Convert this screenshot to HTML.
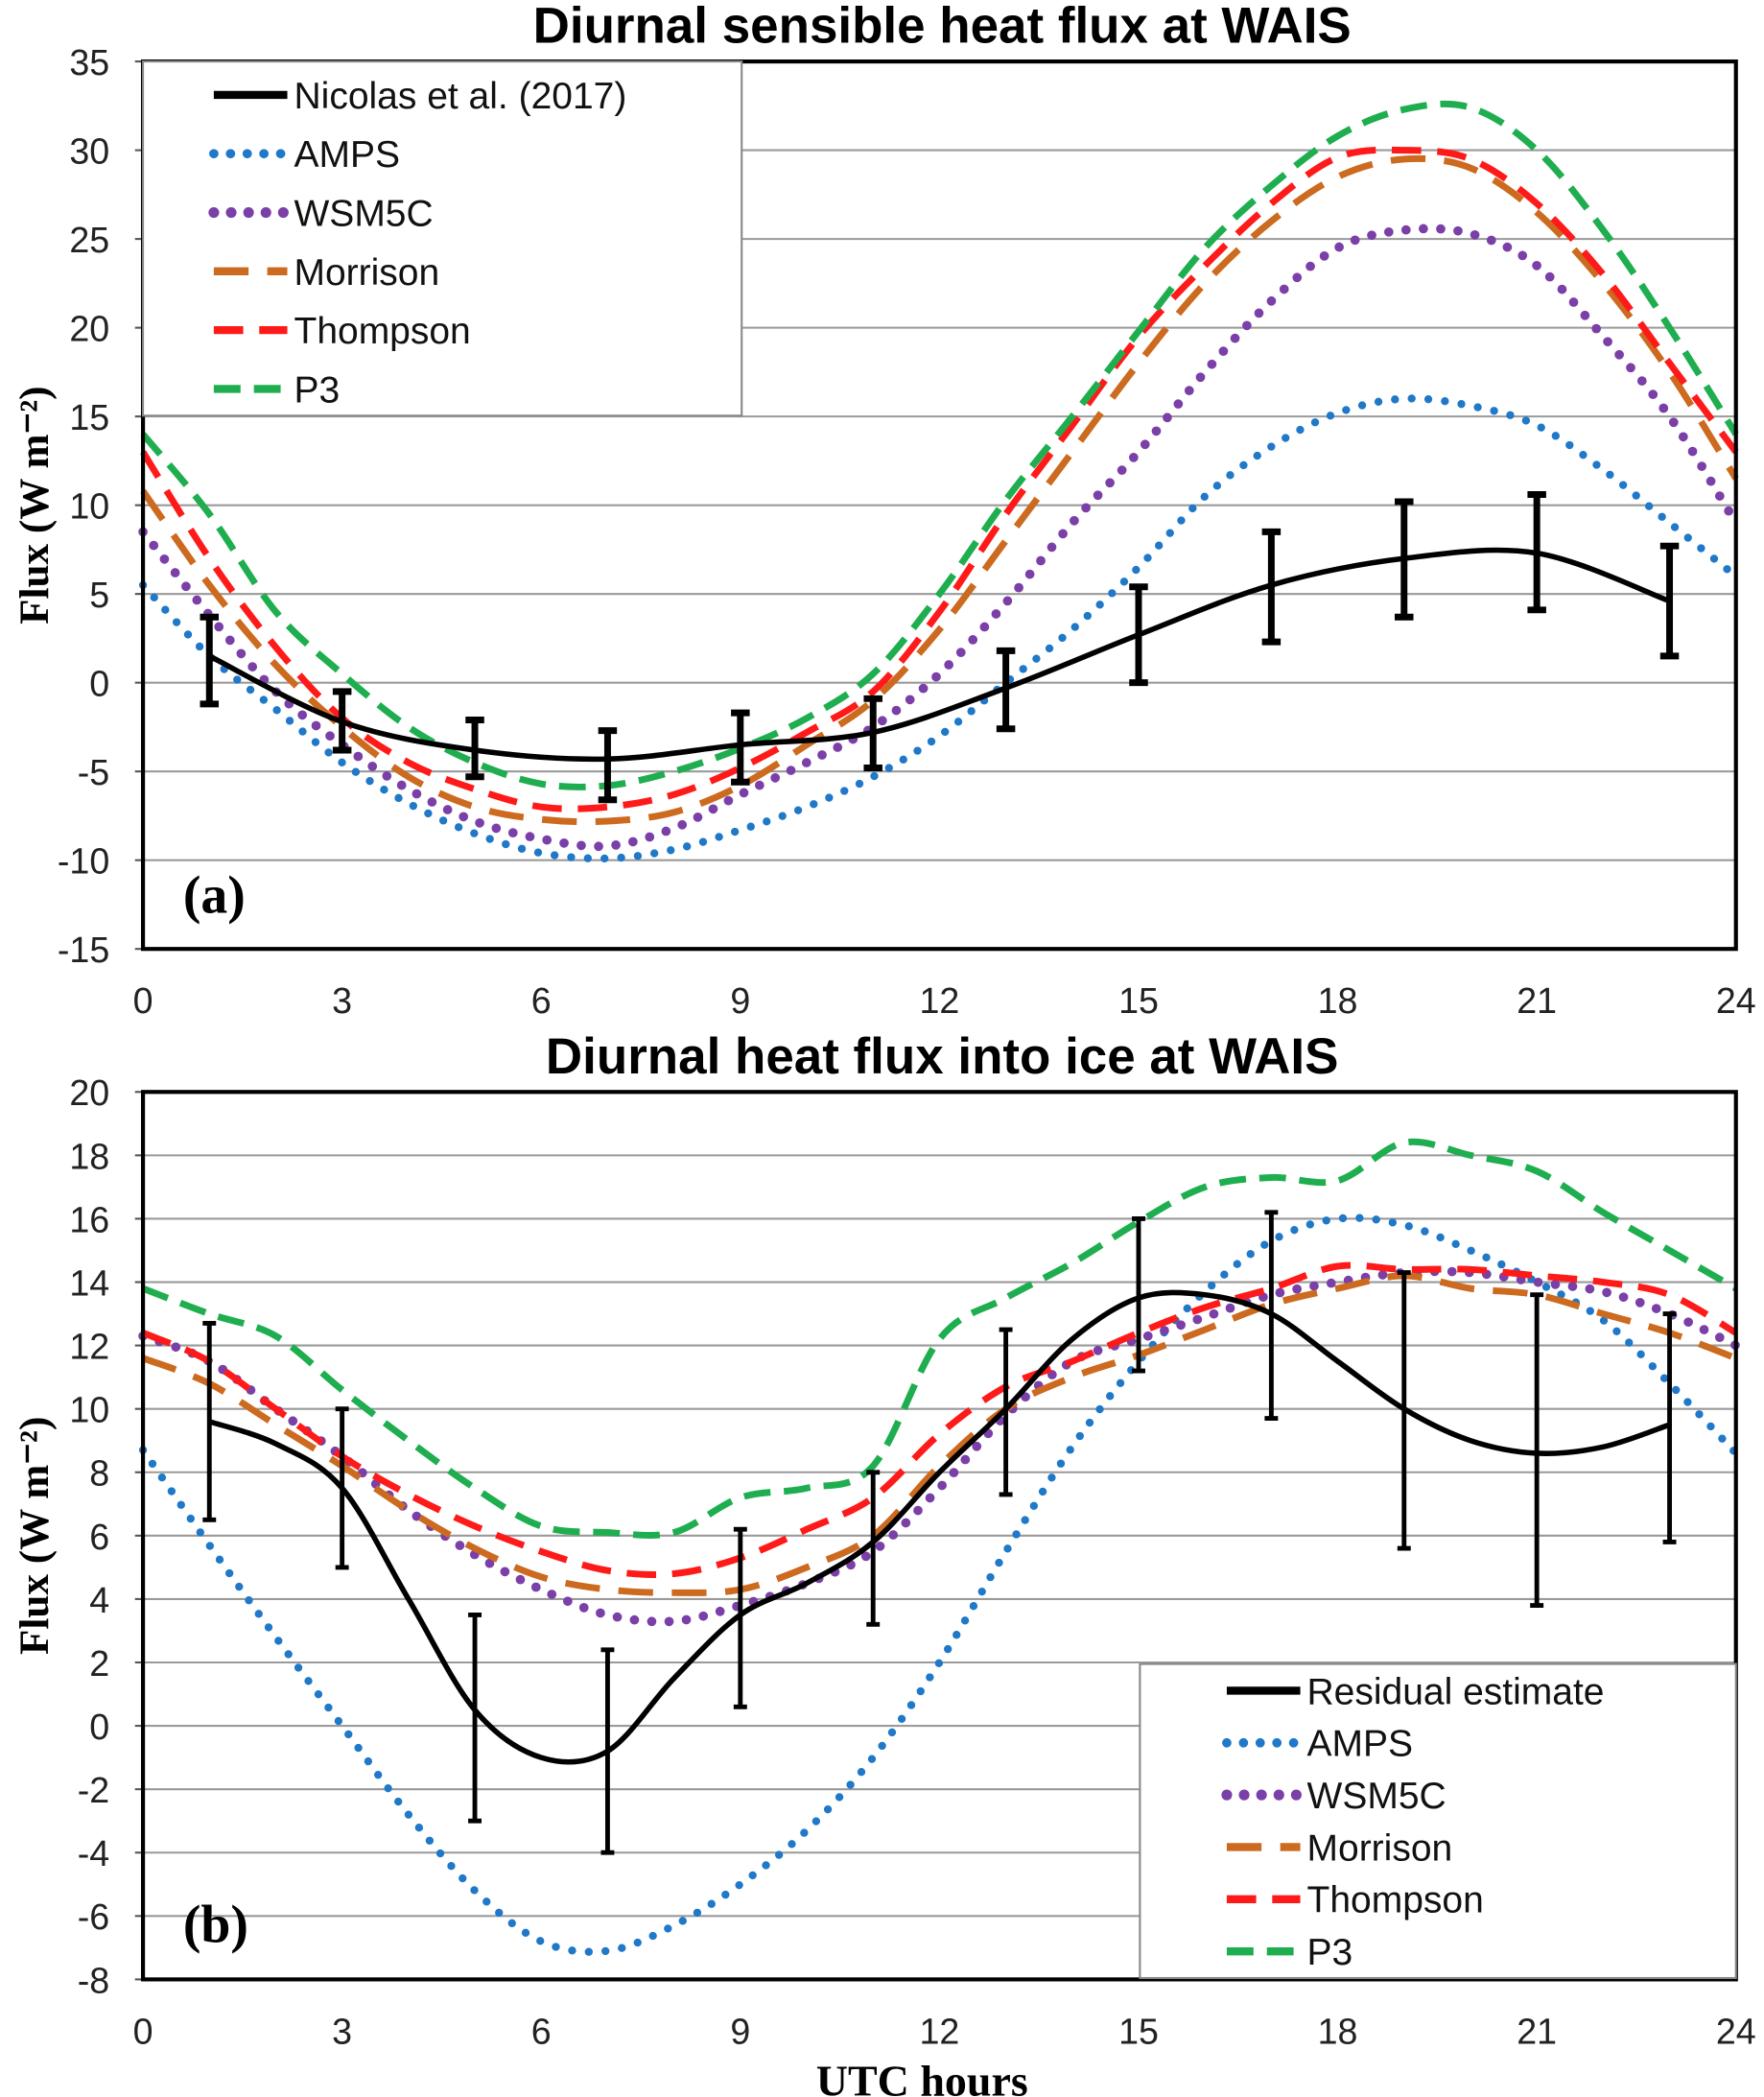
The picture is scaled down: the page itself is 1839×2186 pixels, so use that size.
<!DOCTYPE html>
<html><head><meta charset="utf-8">
<style>
html,body{margin:0;padding:0;background:#fff;}
svg{display:block;}
</style></head>
<body>
<svg id="chart" width="1839" height="2186" viewBox="0 0 1320 1569" preserveAspectRatio="none" xmlns="http://www.w3.org/2000/svg">
<g id="pa"></g>
<g id="pb"></g>
</svg>
<script>
// Panel (a) data
const hoursA = [0,1,2,3,4,5,6,7,8,9,10,11,12,13,14,15,16,17,18,19,20,21,22,23,24];
const obsHoursA = [1,3,5,7,9,11,13,15,17,19,21,23];
const nicolasA = [1.5,-2.2,-3.8,-4.3,-3.5,-2.8,-0.3,2.7,5.5,7.0,7.3,4.6];
const nicolasLoA = [-1.2,-3.8,-5.3,-6.6,-5.6,-4.8,-2.6,0,2.3,3.7,4.1,1.5];
const nicolasHiA = [3.7,-0.5,-2.1,-2.7,-1.7,-0.9,1.8,5.4,8.5,10.2,10.6,7.7];
const ampsA = [5.5,1.5,-1.5,-4.5,-6.8,-8.5,-9.6,-9.9,-9.4,-8.3,-7,-5.3,-3,0,3,6.5,10.5,13.3,15.2,16,15.6,14.5,12,9,6];
const wsmA = [8.5,3.8,-0.5,-3.5,-6,-7.8,-8.8,-9.2,-8.2,-6.3,-4.5,-2.5,0.5,4.5,9,13,17.5,21.5,24.5,25.5,25.3,23.5,19.5,15,9];
const morA = [10.8,5.5,1,-2.5,-5.3,-7,-7.7,-7.8,-7.3,-5.8,-3.5,-1,3,8,13,18,22.5,26,28.5,29.5,29,26.5,22.5,17.5,11.5];
const thoA = [13,7,2,-2,-4.5,-6,-7,-7,-6.3,-4.8,-2.8,-0.5,4,9.5,14.5,19.5,23.5,27,29.6,30,29.5,27,23,18,13];
const p3A = [14,9.5,4,0.5,-2.5,-4.5,-5.7,-5.8,-5,-3.7,-2,0.5,5,10.3,15,19.8,24.5,28,30.8,32.3,32.4,30,25.5,20,14];
const yTicksA = [35,30,25,20,15,10,5,0,-5,-10,-15];
// Panel (b) data
const obsHoursB = [1,2,3,4,5,6,7,8,9,10,11,12,13,14,15,16,17,18,19,20,21,22,23];
const residB = [9.6,8.9,7.5,4,0.5,-1,-0.8,1.5,3.5,4.5,5.8,8,10,12.2,13.5,13.6,13,11.5,10,9,8.6,8.8,9.5];
const errHoursB = [1,3,5,7,9,11,13,15,17,19,21,23];
const errLoB = [6.5,5,-3,-4,0.6,3.2,7.3,11.2,9.7,5.6,3.8,5.8];
const errHiB = [12.7,10,3.5,2.4,6.2,8,12.5,16,16.2,14.3,13.6,13];
const ampsB = [8.7,5.7,2.8,0,-2.8,-5.2,-6.8,-7.1,-6.3,-5,-3.3,-1,2,5.5,8.8,11.5,13.7,15.3,16,15.8,15,14,12.8,10.8,8.6];
const wsmB = [12.3,11.5,10,8.5,6.8,5.4,4.3,3.5,3.3,3.8,4.5,5.5,7.5,9.8,11.5,12.2,12.9,13.6,14,14.3,14.3,14,13.7,13,12];
const morB = [11.6,10.8,9.5,8.2,6.8,5.6,4.7,4.3,4.2,4.3,5,6,8.2,10,11,11.7,12.5,13.3,13.8,14.2,13.8,13.6,13,12.4,11.6];
const thoB = [12.4,11.5,10,8.5,7.3,6.3,5.5,4.9,4.8,5.3,6.2,7.2,9.2,10.7,11.5,12.4,13.2,13.8,14.5,14.4,14.4,14.2,14,13.6,12.4];
const p3B = [13.8,13,12.3,10.6,9,7.5,6.3,6.1,6.1,7.2,7.5,8.2,12.2,13.5,14.6,15.9,17,17.3,17.2,18.4,18,17.5,16.2,15,13.8];
const yTicksB = [20,18,16,14,12,10,8,6,4,2,0,-2,-4,-6,-8];
const xTicks = [0,3,6,9,12,15,18,21,24];

const NS='http://www.w3.org/2000/svg';
function mk(parent,tag,attrs,text){const e=document.createElementNS(NS,tag);for(const k in attrs)e.setAttribute(k,attrs[k]);if(text!==undefined)e.textContent=text;parent.appendChild(e);return e;}
function smooth(pts){let d='M'+pts[0][0]+','+pts[0][1];for(let i=0;i<pts.length-1;i++){const p0=pts[i-1]||pts[i],p1=pts[i],p2=pts[i+1],p3=pts[i+2]||p2;d+=' C'+(p1[0]+(p2[0]-p0[0])/6)+','+(p1[1]+(p2[1]-p0[1])/6)+' '+(p2[0]-(p3[0]-p1[0])/6)+','+(p2[1]-(p3[1]-p1[1])/6)+' '+p2[0]+','+p2[1];}return d;}
const X0=107,X1=1299;
const sx=h=>X0+(X1-X0)*h/24;
const styles={
 amps:{stroke:'#1f78c8',w:6,dash:'0 12.5',cap:'round'},
 wsm:{stroke:'#7b3fa8',w:7,dash:'0 13',cap:'round'},
 mor:{stroke:'#cc6a1f',w:5,dash:'26 14',cap:'butt'},
 tho:{stroke:'#ff1a1a',w:5,dash:'22 12',cap:'butt'},
 p3:{stroke:'#1fae4f',w:5,dash:'20 10',cap:'butt'}
};
function panel(g,cfg){
 const sy=v=>cfg.top+(cfg.bot-cfg.top)*(cfg.ymax-v)/(cfg.ymax-cfg.ymin);
 mk(g,'text',{x:705,y:cfg.top-14,'font-family':'Liberation Sans, sans-serif','font-weight':'bold','font-size':38,'text-anchor':'middle',},cfg.title);
 cfg.yt.forEach(v=>{
  const gl=mk(g,'line',{x1:X0,x2:X1,y1:sy(v),y2:sy(v),stroke:'#9a9a9a','stroke-width':1.5});
  
  
  const t=mk(g,'text',{x:82,y:sy(v)+10,'font-family':'Liberation Sans, sans-serif','font-size':27,'text-anchor':'end',fill:'#222'},String(v));
  
  
  mk(g,'line',{x1:X0-6,x2:X0,y1:sy(v),y2:sy(v),stroke:'#555','stroke-width':1.5});
 });
 xTicks.forEach(h=>{
  const t=mk(g,'text',{x:sx(h),y:cfg.bot+48,'font-family':'Liberation Sans, sans-serif','font-size':27,'text-anchor':'middle',fill:'#222'},String(h));
  
  
 });
 mk(g,'text',{transform:`translate(36,${(cfg.top+cfg.bot)/2}) rotate(-90)`,'font-family':'Liberation Serif, serif','font-weight':'bold','font-size':31,'text-anchor':'middle',},'Flux  (W m\u207B\u00B2)');
 cfg.series.forEach(s=>{
  const st=styles[s.key];
  const p=mk(g,'path',{d:smooth(hoursA.map((h,i)=>[sx(h),sy(s.vals[i])])),fill:'none',stroke:st.stroke,'stroke-width':st.w,'stroke-dasharray':st.dash,'stroke-linecap':st.cap});
  
  
 });
 const bl=mk(g,'path',{d:smooth(cfg.obsX.map((h,i)=>[sx(h),sy(cfg.obs[i])])),fill:'none',stroke:'#000','stroke-width':4});
 
 
 cfg.errX.forEach((h,i)=>{
  const x=sx(h);
  const e=mk(g,'path',{d:`M${x},${sy(cfg.lo[i])}V${sy(cfg.hi[i])}M${x-cfg.cw},${sy(cfg.lo[i])}h${2*cfg.cw}M${x-cfg.cw},${sy(cfg.hi[i])}h${2*cfg.cw}`,stroke:'#000','stroke-width':cfg.ew,fill:'none'});
  
  
 });
 mk(g,'rect',{x:X0,y:cfg.top,width:X1-X0,height:cfg.bot-cfg.top,fill:'none',stroke:'#000','stroke-width':3,});
 const L=cfg.leg;
 mk(g,'rect',{x:L.x,y:L.y,width:L.w,height:L.h,fill:'#fff',stroke:'#888','stroke-width':1.5,});
 const entries=[['obs',cfg.obsName],['amps','AMPS'],['wsm','WSM5C'],['mor','Morrison'],['tho','Thompson'],['p3','P3']];
 entries.forEach((en,i)=>{
  const y=L.y0+i*L.dy;
  const st=en[0]==='obs'?{stroke:'#000',w:5,dash:'none',cap:'butt'}:styles[en[0]];
  const ln=mk(g,'line',{x1:L.lx,x2:L.lx+55,y1:y,y2:y,stroke:st.stroke,'stroke-width':st.w+1,'stroke-dasharray':st.dash,'stroke-linecap':st.cap});
  
  
  const t=mk(g,'text',{x:L.lx+60,y:y+10,'font-family':'Liberation Sans, sans-serif','font-size':28,fill:'#111'},en[1]);
  
  
 });
 mk(g,'text',{x:137,y:cfg.labY,'font-family':'Liberation Serif, serif','font-weight':'bold','font-size':40,},cfg.lab);
}
panel(document.getElementById('pa'),{title:'Diurnal sensible heat flux at WAIS',top:46,bot:710,ymax:35,ymin:-15,yt:yTicksA,
 series:[{key:'amps',vals:ampsA},{key:'wsm',vals:wsmA},{key:'mor',vals:morA},{key:'tho',vals:thoA},{key:'p3',vals:p3A}],
 obsX:obsHoursA,obs:nicolasA,errX:obsHoursA,lo:nicolasLoA,hi:nicolasHiA,cw:7,ew:5,
 leg:{x:107,y:46,w:448,h:265,lx:160,y0:71,dy:44},obsName:'Nicolas et al. (2017)',lab:'(a)',labY:683});
panel(document.getElementById('pb'),{title:'Diurnal heat flux into ice at WAIS',top:817,bot:1481,ymax:20,ymin:-8,yt:yTicksB,
 series:[{key:'amps',vals:ampsB},{key:'wsm',vals:wsmB},{key:'mor',vals:morB},{key:'tho',vals:thoB},{key:'p3',vals:p3B}],
 obsX:obsHoursB,obs:residB,errX:errHoursB,lo:errLoB,hi:errHiB,cw:5,ew:3.5,
 leg:{x:853,y:1245,w:446,h:235,lx:918,y0:1265,dy:39},obsName:'Residual estimate',lab:'(b)',labY:1453});
const xt=document.createElementNS(NS,'text');
xt.setAttribute('x',690);xt.setAttribute('y',1568);xt.setAttribute('text-anchor','middle');
xt.setAttribute('font-family','Liberation Serif, serif');xt.setAttribute('font-weight','bold');xt.setAttribute('font-size',33);
xt.textContent='UTC hours';


document.getElementById('chart').appendChild(xt);
</script>
</body></html>
